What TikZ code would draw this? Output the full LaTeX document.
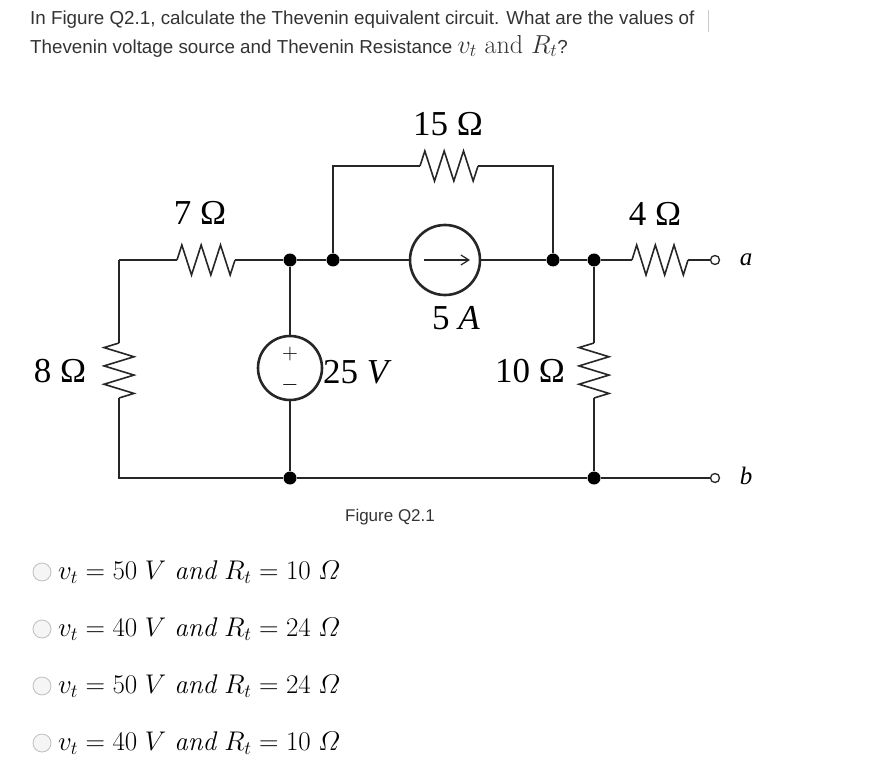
\documentclass[tikz,border=0pt]{standalone}
\usepackage{fix-cm}
\usepackage{amsmath}
\usepackage{fontspec}
\usetikzlibrary{arrows.meta}
\newfontfamily\sansf{Liberation Sans}
\newfontfamily\serf{Liberation Serif}
\begin{document}
\begin{tikzpicture}[x=1pt,y=-1pt,
  wire/.style={line width=1.6pt,color=black!85},
  dot/.style={circle,fill=black,inner sep=0pt,minimum size=13pt},
  term/.style={circle,draw=black!85,line width=1.3pt,fill=white,inner sep=0pt,minimum size=9pt},
  lab/.style={font=\serf\fontsize{35}{35}\selectfont,inner sep=0pt},
  radio/.style={circle,draw=black!25,fill=black!4,line width=0.8pt,inner sep=0pt,minimum size=18pt},
  opt/.style={anchor=west,font=\fontsize{27}{27}\selectfont,inner sep=0pt}]
\useasboundingbox (0,0) rectangle (893,775);
\newcommand\hres[3]{\draw[wire] (#1,#3) -- ++({(#2-#1)/12},-15) -- ++({(#2-#1)/6},30) -- ++({(#2-#1)/6},-30) -- ++({(#2-#1)/6},30) -- ++({(#2-#1)/6},-30) -- ++({(#2-#1)/6},30) -- (#2,#3);}
\newcommand\vres[3]{\draw[wire] (#3,#1) -- ++(-15,{(#2-#1)/12}) -- ++(30,{(#2-#1)/6}) -- ++(-30,{(#2-#1)/6}) -- ++(30,{(#2-#1)/6}) -- ++(-30,{(#2-#1)/6}) -- ++(30,{(#2-#1)/6}) -- (#3,#2);}
% header text
\node[anchor=west,inner sep=0pt,font=\sansf\fontsize{18.8}{18.8}\selectfont,color=black!80] (q1) at (30,20) {In Figure Q2.1, calculate the Thevenin equivalent circuit. What are the values of};
\draw[black!20,line width=0.8pt] (708,10) -- (708,32);
\node[anchor=west,inner sep=0pt,font=\sansf\fontsize{18.8}{18.8}\selectfont,color=black!80] (q2) at (30,46) {Thevenin voltage source and Thevenin Resistance {\fontsize{26}{26}\selectfont\rmfamily$v_t$ and $R_t$}?};
% coordinates
\coordinate (tl) at (119,260); \coordinate (bl) at (119,478);
\node[dot] (j1) at (290,260) {}; \node[dot] (j2) at (333,260) {};
\node[dot] (j3) at (553,260) {}; \node[dot] (j4) at (594,260) {};
\node[dot] (j5) at (290,478) {}; \node[dot] (j6) at (594,478) {};
\node[term] (a) at (715,260) {}; \node[term] (b) at (715,478) {};
\node[circle,draw=black!85,line width=2.6pt,minimum size=70pt,inner sep=0pt] (cs) at (445,260) {};
\node[circle,draw=black!85,line width=2.6pt,minimum size=64pt,inner sep=0pt] (vs) at (290,368) {};
\draw[black!85,line width=1.2pt,-{Straight Barb[length=8pt,width=10pt]}] (424,260) -- (470,260);
\node[font=\fontsize{22}{22}\selectfont,inner sep=0pt] (pl) at (290,354) {$+$};
\node[font=\fontsize{22}{22}\selectfont,inner sep=0pt] (mn) at (290,385) {$-$};
% wires
\draw[wire] (tl) -- (177,260); \hres{177}{235}{260}; \draw[wire] (235,260) -- (j1) -- (j2) -- (cs);
\draw[wire] (cs) -- (j3) -- (j4) -- (632,260); \hres{632}{688}{260}; \draw[wire] (688,260) -- (a);
\draw[wire] (j2) |- (420,166); \hres{420}{478}{166}; \draw[wire] (478,166) -| (j3);
\draw[wire] (tl) -- (119,343); \vres{343}{398}{119}; \draw[wire] (119,398) -- (bl) -- (j5) -- (j6) -- (b);
\draw[wire] (j1) -- (vs) -- (j5);
\draw[wire] (j4) -- (594,343); \vres{343}{398}{594}; \draw[wire] (594,398) -- (j6);
% labels
\node[lab] (l7) at (200,213) {7 Ω};
\node[lab] (l15) at (448,124) {15 Ω};
\node[lab] (l4) at (655,214) {4 Ω};
\node[lab] (l8) at (60,371) {8 Ω};
\node[lab] (l10) at (530,371) {10 Ω};
\node[lab,anchor=west] (l25) at (323,372) {25 \textit{V}};
\node[lab] (l5) at (456,318) {5 \textit{A}};
\node[font=\serf\itshape\fontsize{25}{25}\selectfont,inner sep=0pt] (la) at (746,260) {a};
\node[font=\serf\itshape\fontsize{25}{25}\selectfont,inner sep=0pt] (lb) at (746,476) {b};
\node[font=\sansf\fontsize{17}{17}\selectfont,inner sep=0pt,color=black!80] (fig) at (390,517) {Figure Q2.1};
% options
\foreach \y/\v/\r [count=\i] in {572/50/10,629/40/24,686/50/24,743/40/10}{
  \node[radio] (r\i) at (42,\y) {};
  \node[opt] (o\i) at (58,\y) {$v_t = \v\;V \mathit{\ and\ } R_t = \r\;\varOmega$};
}
\end{tikzpicture}
\end{document}
